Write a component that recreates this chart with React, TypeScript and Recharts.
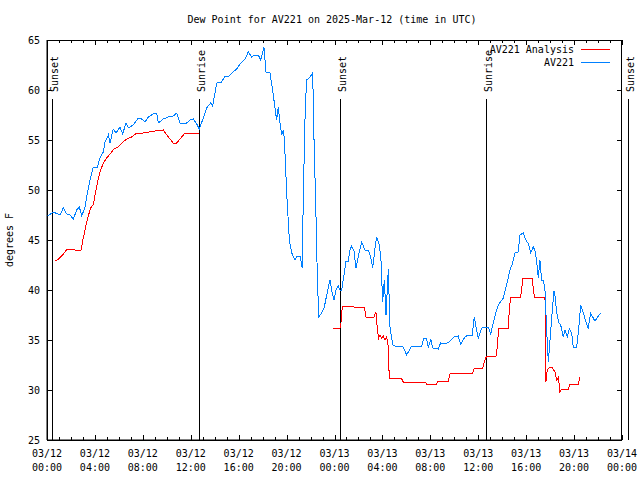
import React from "react";
import { LineChart, Line, XAxis, YAxis, ReferenceLine, ReferenceArea, Legend } from "recharts";

const FONT = "'DejaVu Sans Mono', 'Liberation Mono', monospace";

// hours since 03/12 00:00 UTC
const av221Hours = [
  0.0, 0.19, 0.53, 1.09, 1.36, 1.64, 1.92, 2.2, 2.48, 2.7,
  2.9, 3.17, 3.31, 3.59, 3.86, 4.2, 4.42, 4.7, 4.84, 5.12,
  5.26, 5.53, 5.76, 6.09, 6.32, 6.59, 6.79, 7.2, 7.62, 7.9,
  8.18, 8.46, 8.87, 9.16, 9.29, 9.71, 10.13, 10.54, 10.83, 11.1,
  11.66, 11.94, 12.21, 12.5, 12.71, 13.05, 13.33, 13.66, 13.83, 14.17,
  14.58, 14.86, 15.13, 15.42, 15.83, 16.11, 16.53, 16.8, 17.09, 17.36,
  17.64, 17.84, 18.11, 18.28, 18.61, 18.84, 19.03, 19.17, 19.31, 19.39,
  19.59, 19.72, 19.81, 20.01, 20.23, 20.43, 20.7, 20.89, 21.12, 21.31,
  21.39, 21.56, 21.68, 21.95, 22.18, 22.29, 22.45, 22.56, 22.68, 22.93,
  23.15, 23.35, 23.62, 23.76, 23.96, 24.12, 24.32, 24.46, 24.6, 24.79,
  24.96, 25.15, 25.29, 25.43, 25.63, 25.79, 25.9, 26.07, 26.27, 26.54,
  26.82, 27.02, 27.19, 27.38, 27.52, 27.74, 27.88, 28.02, 28.16, 28.3,
  28.49, 28.63, 28.86, 29.05, 29.74, 30.02, 30.44, 31.28, 31.47, 31.69,
  31.83, 32.03, 32.2, 32.66, 32.86, 33.22, 33.58, 33.97, 34.33, 34.53,
  34.89, 35.17, 35.5, 35.67, 35.81, 36.0, 36.29, 36.56, 36.84, 37.04,
  37.25, 37.48, 37.67, 38.09, 38.37, 38.65, 38.87, 39.07, 39.34, 39.48,
  39.76, 40.04, 40.18, 40.38, 40.59, 40.73, 40.88, 41.01, 41.15, 41.29,
  41.43, 41.57, 41.71, 41.85, 41.99, 42.13, 42.32, 42.4, 42.55, 42.74,
  42.88, 43.1, 43.24, 43.43, 43.6, 43.8, 43.93, 44.22, 44.43, 44.55,
  44.77, 44.99, 45.18, 45.38, 45.55, 45.74, 46.02, 46.22,
];
const av221Values = [
  47.5, 47.5, 47.8, 47.5, 48.2, 47.6, 47.5, 47.1, 48.0, 48.3,
  47.4, 48.3, 49.3, 51.0, 52.3, 52.3, 53.2, 53.8, 54.8, 55.5,
  54.7, 56.1, 55.7, 56.3, 55.6, 56.7, 56.2, 56.5, 57.2, 57.1,
  56.8, 57.3, 57.6, 57.7, 56.7, 57.1, 57.3, 57.4, 57.7, 56.7,
  56.7, 57.0, 57.1, 56.6, 56.1, 57.2, 58.2, 58.7, 58.4, 60.7,
  60.8, 61.4, 61.3, 61.7, 62.1, 62.6, 63.1, 63.8, 63.3, 63.5,
  63.5, 63.0, 64.3, 61.8, 61.7, 60.0, 58.2, 57.0, 58.3, 57.3,
  55.5, 56.0, 55.2, 49.7, 45.0, 43.7, 43.0, 43.4, 43.4, 42.2,
  49.0, 58.3, 61.0, 61.3, 61.7, 55.0, 47.7, 41.7, 37.3, 37.7,
  38.3, 39.5, 41.0, 40.0, 39.0, 40.0, 40.4, 40.0, 40.0, 41.5,
  42.9, 42.9, 44.0, 44.4, 43.9, 42.2, 42.8, 43.8, 44.8, 44.0,
  44.0, 43.3, 42.2, 44.2, 45.3, 44.5, 43.0, 38.8, 41.0, 37.5,
  42.1, 36.3, 34.5, 34.4, 34.3, 33.5, 34.4, 34.4, 35.2, 35.1,
  34.2, 35.1, 34.2, 34.1, 34.7, 34.6, 34.8, 35.3, 35.4, 34.6,
  35.3, 35.5, 35.5, 37.3, 36.3, 35.2, 36.2, 36.3, 36.3, 35.6,
  36.7, 37.8, 38.5, 39.2, 40.5, 42.0, 42.7, 43.7, 43.8, 45.5,
  45.7, 44.8, 44.7, 43.7, 44.3, 44.0, 42.8, 41.2, 43.0, 41.0,
  41.0, 40.0, 36.0, 32.8, 35.0, 37.2, 39.9, 39.5, 37.7, 36.7,
  36.5, 35.3, 36.0, 35.3, 36.1, 35.7, 34.3, 34.3, 36.7, 38.5,
  37.7, 36.8, 36.2, 37.7, 37.3, 36.9, 37.4, 37.7,
];

const analysisHours = [
  0.67, 0.86, 1.23, 1.69, 2.2, 2.34, 2.84, 3.03, 3.31, 3.59,
  3.73, 3.86, 4.15, 4.42, 4.7, 4.98, 5.26, 5.59, 5.95, 6.24,
  6.65, 7.07, 7.49, 8.04, 9.02, 9.71, 10.13, 10.54, 10.83, 11.24,
  11.52, 12.71, 18.0, 23.9, 24.46, 24.54, 24.65, 25.52, 25.65, 26.49,
  26.63, 27.3, 27.46, 27.6, 27.69, 27.8, 27.94, 28.07, 28.21, 28.36,
  28.49, 28.57, 29.61, 29.74, 31.55, 31.69, 32.53, 32.66, 33.5, 33.64,
  34.62, 35.53, 35.64, 36.37, 36.56, 36.7, 37.48, 37.59, 37.7, 38.51,
  38.59, 38.71, 39.54, 39.62, 39.71, 40.54, 40.59, 40.71, 41.57, 41.59,
  41.65, 41.76, 41.99, 42.21, 42.4, 42.55, 42.69, 42.82, 42.96, 43.51,
  43.65, 44.35, 44.49,
];
const analysisValues = [
  43.0, 43.0, 43.4, 44.1, 44.1, 44.0, 44.0, 45.2, 46.8, 48.0,
  48.4, 48.5, 50.4, 51.8, 52.7, 53.2, 53.6, 54.1, 54.3, 54.7,
  55.1, 55.3, 55.7, 55.7, 55.9, 56.0, 55.3, 54.7, 54.7, 55.3,
  55.7, 55.7, null, 36.2, 36.2, 36.7, 38.4, 38.4, 38.3, 38.3,
  37.3, 37.3, 37.8, 35.8, 35.2, 35.5, 35.2, 35.4, 35.0, 35.3,
  34.3, 31.2, 31.1, 30.8, 30.8, 30.6, 30.6, 30.9, 30.9, 31.6,
  31.7, 31.7, 32.1, 32.2, 33.0, 33.4, 33.4, 34.3, 36.2, 36.2,
  38.0, 39.3, 39.3, 40.0, 41.2, 41.2, 40.0, 39.3, 39.3, 37.3,
  30.8, 32.0, 32.3, 32.2, 31.8, 31.0, 31.3, 29.8, 30.1, 30.1,
  30.6, 30.6, 31.3,
];

const seriesNames = ["AV221 Analysis", "AV221"];

const sunHours = [0.44, 12.71, 24.48, 36.67, 48.5];
const sunLabels = ["Sunset", "Sunrise", "Sunset", "Sunrise", "Sunset"];

const yTicks = [25, 30, 35, 40, 45, 50, 55, 60, 65];
const xMajorTicks = [0, 4, 8, 12, 16, 20, 24, 28, 32, 36, 40, 44, 48];
const xDayLabels = ["03/12", "03/12", "03/12", "03/12", "03/12", "03/12", "03/13", "03/13", "03/13", "03/13", "03/13", "03/13", "03/14"];
const xTimeLabels = ["00:00", "04:00", "08:00", "12:00", "16:00", "20:00", "00:00", "04:00", "08:00", "12:00", "16:00", "20:00", "00:00"];
const xAllTicks = Array.from({ length: 49 }, (_, i) => i);

const X_MIN = 0;
const X_MAX = 48;
const Y_MIN = 25;
const Y_MAX = 65;

const av221Data = av221Hours.map((h, i) => ({ h, v: av221Values[i] }));
const analysisData = analysisHours.map((h, i) => ({ h, v: analysisValues[i] }));

// snap to a pixel centre so 1px lines stay sharp
const px = (v: number) => Math.round(v) + 0.5;

const BottomTickLabel = (props: any) => {
  const { x, y, payload } = props;
  const i = xMajorTicks.indexOf(payload.value);
  if (i < 0) return <g />;
  return (
    <text x={x} y={y + 17} textAnchor="middle" fontFamily={FONT} fontSize={10} fill="#000">
      <tspan x={x}>{xDayLabels[i]}</tspan>
      <tspan x={x} dy={14}>{xTimeLabels[i]}</tspan>
    </text>
  );
};

const LeftTickLabel = (props: any) => {
  const { x, y, payload } = props;
  return (
    <text x={x - 7} y={y + 4} textAnchor="end" fontFamily={FONT} fontSize={10} fill="#000">
      {payload.value}
    </text>
  );
};

// plot frame drawn from the reference area's rectangle
const frameShape = (p: any) => {
  const x = Math.round(p.x);
  const y = Math.round(p.y);
  const w = Math.round(p.width);
  const h = Math.round(p.height);
  return <rect x={x + 0.5} y={y + 0.5} width={w - 1} height={h} fill="none" stroke="#000" strokeWidth={1} />;
};

// a short tick mark starting at the segment point, going (dx, dy) pixels
const tickMark = (dx: number, dy: number) => (p: any) => {
  const x = dx ? p.x1 : px(p.x1);
  const y = dy ? p.y1 : px(p.y1);
  return <line x1={x} y1={y} x2={x + dx} y2={y + dy} stroke="#000" strokeWidth={1} />;
};

const sunShape = (label: string) => (props: any) => {
  const { x1, y1, y2 } = props;
  const top = Math.min(y1, y2);
  const bottom = Math.max(y1, y2);
  const x = px(x1);
  return (
    <g>
      <line x1={x} x2={x} y1={top} y2={bottom} stroke="#000" strokeWidth={1} />
      <text transform={`translate(${x + 5},${top - 7}) rotate(-90)`} fontFamily={FONT} fontSize={10} fill="#000">
        {label}
      </text>
    </g>
  );
};

const YLabel = (props: any) => {
  const { viewBox } = props;
  const x = viewBox.x + 13;
  const y = viewBox.y + viewBox.height / 2;
  return (
    <text transform={`translate(${x},${y}) rotate(-90)`} textAnchor="middle" fontFamily={FONT} fontSize={10} fill="#000">
      degrees F
    </text>
  );
};

const renderLegend = (props: any) => {
  const items = [...(props.payload || [])].sort(
    (a: any, b: any) => seriesNames.indexOf(a.value) - seriesNames.indexOf(b.value)
  );
  return (
    <div style={{ fontFamily: FONT, fontSize: 10, lineHeight: "13px", color: "#000" }}>
      {items.map((p: any) => (
        <div key={p.value} style={{ display: "flex", justifyContent: "flex-end", alignItems: "center", height: 13 }}>
          <span style={{ whiteSpace: "nowrap" }}>{p.value}</span>
          <svg width={36} height={13} style={{ display: "block" }}>
            <line x1={7} x2={36} y1={6.5} y2={6.5} stroke={p.color} strokeWidth={1} />
          </svg>
        </div>
      ))}
    </div>
  );
};

export default function App() {
  return (
    <div style={{ position: "absolute", left: 0, top: 0, width: 640, height: 480, background: "#fff" }}>
      <div
        style={{
          position: "absolute",
          left: 332,
          top: 14,
          transform: "translateX(-50%)",
          whiteSpace: "nowrap",
          fontFamily: FONT,
          fontSize: 10,
          lineHeight: "12px",
          color: "#000",
        }}
      >
        Dew Point for AV221 on 2025-Mar-12 (time in UTC)
      </div>
      <LineChart width={640} height={480} margin={{ top: 40, right: 18, bottom: 0, left: 0 }}>
        <XAxis
          dataKey="h"
          type="number"
          domain={[X_MIN, X_MAX]}
          ticks={xAllTicks}
          interval={0}
          height={40}
          tickSize={0}
          tickMargin={0}
          tickLine={false}
          axisLine={{ stroke: "#000" }}
          tick={BottomTickLabel}
        />
        <YAxis
          type="number"
          domain={[Y_MIN, Y_MAX]}
          ticks={yTicks}
          interval={0}
          width={47}
          tickSize={0}
          tickMargin={0}
          tickLine={false}
          axisLine={{ stroke: "#000" }}
          tick={LeftTickLabel}
          label={<YLabel />}
        />
        <ReferenceArea
          x1={X_MIN}
          x2={X_MAX}
          y1={Y_MIN}
          y2={Y_MAX}
          ifOverflow="visible"
          fill="none"
          stroke="#000"
          fillOpacity={0}
          shape={frameShape}
        />
        {/* inward tick marks, mirrored on all four sides */}
        {xAllTicks.map((h) => {
          const len = xMajorTicks.indexOf(h) >= 0 ? 5 : 3;
          return (
            <React.Fragment key={"xt-" + h}>
              <ReferenceLine segment={[{ x: h, y: Y_MIN }, { x: h, y: Y_MIN }]} ifOverflow="visible" shape={tickMark(0, -len)} />
              <ReferenceLine segment={[{ x: h, y: Y_MAX }, { x: h, y: Y_MAX }]} ifOverflow="visible" shape={tickMark(0, len)} />
            </React.Fragment>
          );
        })}
        {yTicks.map((v) => (
          <React.Fragment key={"yt-" + v}>
            <ReferenceLine segment={[{ x: X_MIN, y: v }, { x: X_MIN, y: v }]} ifOverflow="visible" shape={tickMark(5, 0)} />
            <ReferenceLine segment={[{ x: X_MAX, y: v }, { x: X_MAX, y: v }]} ifOverflow="visible" shape={tickMark(-5, 0)} />
          </React.Fragment>
        ))}
        {sunHours.map((h, i) => (
          <ReferenceLine
            key={"sun-" + i}
            segment={[
              { x: h, y: Y_MIN },
              { x: h, y: 59.1 },
            ]}
            ifOverflow="visible"
            shape={sunShape(sunLabels[i])}
          />
        ))}
        <Line
          data={analysisData}
          dataKey="v"
          name={seriesNames[0]}
          type="linear"
          stroke="#ff0000"
          strokeWidth={1}
          dot={false}
          activeDot={false}
          connectNulls={false}
          isAnimationActive={false}
          shapeRendering="crispEdges"
        />
        <Line
          data={av221Data}
          dataKey="v"
          name={seriesNames[1]}
          type="linear"
          stroke="#0080ff"
          strokeWidth={1}
          dot={false}
          activeDot={false}
          isAnimationActive={false}
          shapeRendering="crispEdges"
        />
        <Legend
          layout="horizontal"
          verticalAlign="middle"
          align="center"
          content={renderLegend}
          wrapperStyle={{ position: "absolute", left: 470, top: 43, width: 140, height: 26 }}
        />
      </LineChart>
    </div>
  );
}
